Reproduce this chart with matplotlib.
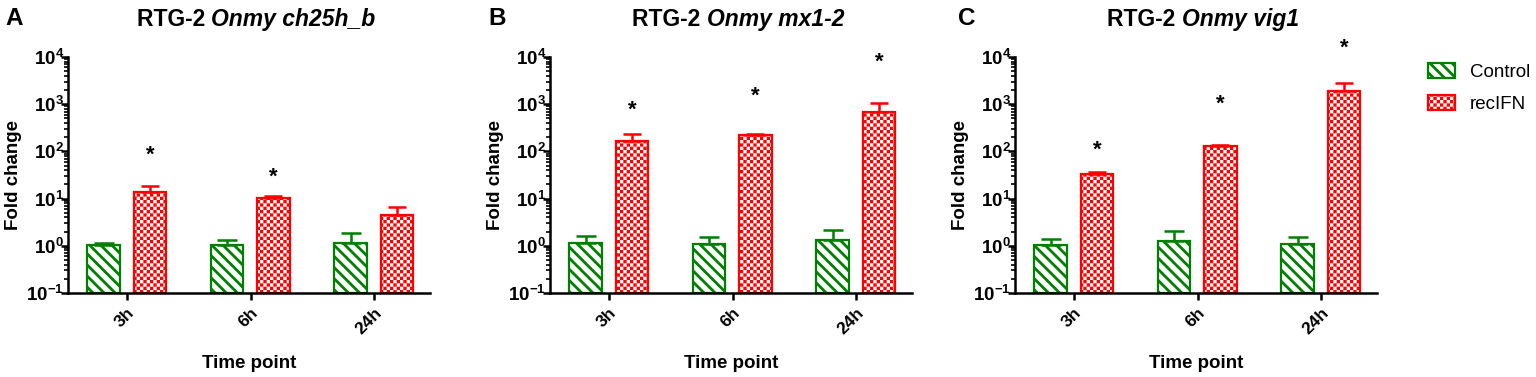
import numpy as np
import matplotlib
matplotlib.use("Agg")
import matplotlib.pyplot as plt
from matplotlib import hatch as mhatch
from matplotlib.path import Path
from matplotlib.patches import Patch, Rectangle
from matplotlib.legend_handler import HandlerPatch
from matplotlib.offsetbox import TextArea, HPacker, AnchoredOffsetbox
from matplotlib.ticker import LogLocator, NullFormatter

# data (fold change, log scale)
times = ["3h", "6h", "24h"]
genes = ["Onmy ch25h_b", "Onmy mx1-2", "Onmy vig1"]
letters = ["A", "B", "C"]
groups = ["Control", "recIFN"]

control_mean = [[1.03, 1.04, 1.16], [1.13, 1.09, 1.33], [1.04, 1.26, 1.09]]
control_top = [[1.12, 1.30, 1.90], [1.64, 1.51, 2.16], [1.39, 2.10, 1.50]]
recifn_mean = [[13.6, 10.1, 4.5], [169, 222, 690], [34, 130, 1930]]
recifn_top = [[18.6, 11.5, 6.7], [229, 234, 1075], [37, 138, 2860]]
# height of the significance asterisks (None = not significant)
star_y = [[84, 28.7, None], [753, 1490, 7580], [107, 1000, 15200]]


# checkerboard hatch (takes the place of the 'O' pattern)
class Checker(mhatch.HatchPatternBase):
    def __init__(self, hatch, density):
        self.n = hatch.count('O') * 30
        self.num_vertices = self.n * (self.n // 2) * 5

    def set_vertices_and_codes(self, vertices, codes):
        s = 1.0 / self.n
        k = 0
        for i in range(self.n):
            for j in range(i % 2, self.n, 2):
                vertices[k:k + 5] = [(j * s, i * s), ((j + 1) * s, i * s),
                                     ((j + 1) * s, (i + 1) * s), (j * s, (i + 1) * s),
                                     (j * s, i * s)]
                codes[k:k + 5] = [Path.MOVETO, Path.LINETO, Path.LINETO,
                                  Path.LINETO, Path.CLOSEPOLY]
                k += 5


mhatch._hatch_types[mhatch._hatch_types.index(mhatch.LargeCircles)] = Checker

plt.rcParams['font.family'] = 'Liberation Sans'
plt.rcParams['font.weight'] = 'bold'
plt.rcParams['mathtext.fontset'] = 'custom'
plt.rcParams['mathtext.rm'] = 'Liberation Sans:bold'
plt.rcParams['mathtext.bf'] = 'Liberation Sans:bold'
plt.rcParams['mathtext.default'] = 'bf'

GREEN = '#008000'
RED = '#ff0000'
HATCH_LW = {"Control": 2.0, "recIFN": 0.0}

W, H = 1536, 377
fig = plt.figure(figsize=(W / 100, H / 100), dpi=100)

lefts = [68, 550, 1015]
letter_x = [5, 488, 958]
x = np.arange(len(times))

for p in range(3):
    ax = fig.add_axes([lefts[p] / W, 1 - 293 / H, 362 / W, 236 / H])
    ax.set_yscale('log')

    plt.rcParams['hatch.linewidth'] = HATCH_LW["Control"]
    b1 = ax.bar(x - 0.19, control_mean[p], 0.265, bottom=0.1,
                facecolor='white', edgecolor=GREEN, linewidth=1.6,
                hatch='\\\\\\', zorder=2)
    plt.rcParams['hatch.linewidth'] = HATCH_LW["recIFN"]
    b2 = ax.bar(x + 0.185, recifn_mean[p], 0.265, bottom=0.1,
                facecolor='white', edgecolor=RED, linewidth=1.6,
                hatch='O', zorder=2)
    for bars in (b1, b2):
        for r in bars:
            r.set_height(r.get_height() - 0.1)

    cm = np.array(control_mean[p])
    rm = np.array(recifn_mean[p])
    ax.errorbar(x - 0.19, cm, yerr=[np.zeros(3), np.array(control_top[p]) - cm],
                fmt='none', ecolor=GREEN, elinewidth=1.8, capsize=7, capthick=1.8, zorder=3)
    ax.errorbar(x + 0.185, rm, yerr=[np.zeros(3), np.array(recifn_top[p]) - rm],
                fmt='none', ecolor=RED, elinewidth=1.8, capsize=6.5, capthick=1.8, zorder=3)

    for i, sy in enumerate(star_y[p]):
        if sy is not None:
            ax.text(x[i] + 0.185, sy, '*', ha='center', va='center',
                    fontsize=16, fontweight='bold', clip_on=False)

    ax.set_ylim(0.1, 1e4)
    ax.set_xlim(-0.478, 2.453)
    ax.yaxis.set_major_locator(LogLocator(base=10, numticks=10))
    ax.yaxis.set_minor_locator(LogLocator(base=10, subs=np.arange(2, 10), numticks=20))
    ax.yaxis.set_minor_formatter(NullFormatter())
    for s in ('top', 'right'):
        ax.spines[s].set_visible(False)
    for s in ('left', 'bottom'):
        ax.spines[s].set_linewidth(1.8)
    ax.tick_params(axis='y', which='major', length=5, width=1.8, labelsize=13.5, pad=-2)
    ax.tick_params(axis='y', which='minor', length=3, width=1.2)
    ax.tick_params(axis='x', length=5, width=1.8, labelsize=12.5)
    ax.set_xticks(x)
    ax.set_xticklabels(times, rotation=45, ha='right', rotation_mode='anchor')

    ax.set_ylabel('Fold change', fontsize=13.5, fontweight='bold')
    ax.yaxis.set_label_coords(-0.126, 0.5)
    ax.set_xlabel('Time point', fontsize=13.5, fontweight='bold')
    ax.xaxis.set_label_coords(0.5, -0.262)

    title = HPacker(children=[
        TextArea('RTG-2 ', textprops=dict(fontsize=16.5, fontweight='bold')),
        TextArea(genes[p], textprops=dict(fontsize=16.5, fontweight='bold', fontstyle='italic')),
    ], align='baseline', pad=0, sep=0)
    ax.add_artist(AnchoredOffsetbox(loc='lower center', child=title, pad=0, borderpad=0,
                                    frameon=False, bbox_to_anchor=(0.52, 1.112),
                                    bbox_transform=ax.transAxes))
    fig.text(letter_x[p] / W, 1 - 25 / H, letters[p], fontsize=17.5, fontweight='bold',
             va='baseline')


# legend patches, with the hatch line width of each series
def legend_patch(legend, orig_handle, xdescent, ydescent, width, height, fontsize):
    with plt.rc_context({'hatch.linewidth': HATCH_LW[orig_handle.get_label()]}):
        return Rectangle((-xdescent, -ydescent), width, height)


handles = []
for g, col, hp in zip(groups, [GREEN, RED], ['\\\\\\', 'O']):
    plt.rcParams['hatch.linewidth'] = HATCH_LW[g]
    handles.append(Patch(facecolor='white', edgecolor=col, linewidth=1.6, hatch=hp, label=g))

leg = fig.legend(handles=handles, loc='upper left', bbox_to_anchor=(1428 / W, 1 - 63 / H),
                 frameon=False, borderpad=0, borderaxespad=0, handlelength=1.45,
                 handleheight=0.86, handletextpad=0.8, labelspacing=0.72,
                 prop=dict(size=13.5, weight='normal'),
                 handler_map={Patch: HandlerPatch(patch_func=legend_patch)})

fig.savefig('out.png', dpi=100)
